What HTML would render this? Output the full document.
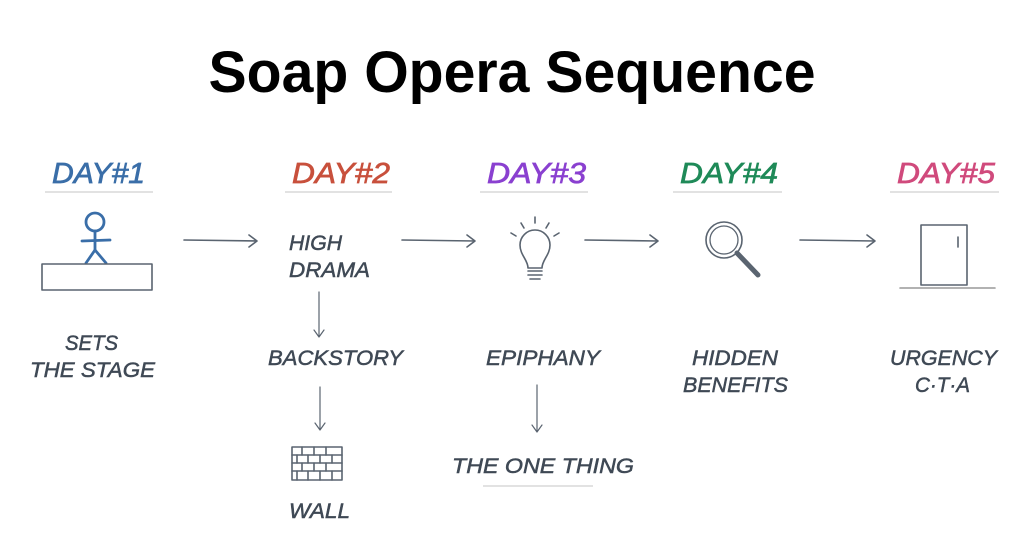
<!DOCTYPE html>
<html><head><meta charset="utf-8"><style>
html,body{margin:0;padding:0;background:#fff;width:1024px;height:536px;overflow:hidden}
svg{display:block}
.t{font-family:"Liberation Sans",sans-serif;font-style:italic;fill:#3f4955;stroke:#3f4955;stroke-width:0.5;font-size:21px}
.d{font-family:"Liberation Sans",sans-serif;font-style:italic;font-size:29px;stroke-width:0.7}
.ln{stroke:#5a6470;stroke-width:1.6;fill:none;stroke-linecap:round;stroke-linejoin:round}
.ul{stroke:#d8d8d8;stroke-width:1.5}
</style></head><body>
<svg width="1024" height="536" viewBox="0 0 1024 536" xmlns="http://www.w3.org/2000/svg">
<text x="512" y="92" text-anchor="middle" font-family="Liberation Sans,sans-serif" font-weight="bold" font-size="58" textLength="607" lengthAdjust="spacingAndGlyphs" fill="#000">Soap Opera Sequence</text>

<text class="d" x="52" y="183" textLength="93" lengthAdjust="spacingAndGlyphs" fill="#3a6ea8" stroke="#3a6ea8">DAY#1</text>
<text class="d" x="292" y="183" textLength="98" lengthAdjust="spacingAndGlyphs" fill="#c8503c" stroke="#c8503c">DAY#2</text>
<text class="d" x="487" y="183" textLength="99" lengthAdjust="spacingAndGlyphs" fill="#8a40d0" stroke="#8a40d0">DAY#3</text>
<text class="d" x="680" y="183" textLength="98" lengthAdjust="spacingAndGlyphs" fill="#1f8a58" stroke="#1f8a58">DAY#4</text>
<text class="d" x="897" y="183" textLength="98" lengthAdjust="spacingAndGlyphs" fill="#d04a7c" stroke="#d04a7c">DAY#5</text>
<line class="ul" x1="45" y1="192" x2="153" y2="192"/>
<line class="ul" x1="285" y1="192" x2="392" y2="192"/>
<line class="ul" x1="480" y1="192" x2="588" y2="192"/>
<line class="ul" x1="673" y1="192" x2="782" y2="192"/>
<line class="ul" x1="890" y1="192" x2="999" y2="192"/>

<g stroke="#3a6ea8" stroke-width="2.8" fill="none" stroke-linecap="round">
<circle cx="95" cy="222" r="9"/>
<line x1="95" y1="231" x2="95" y2="250"/>
<line x1="82" y1="241" x2="110" y2="240"/>
<line x1="95" y1="250" x2="86" y2="263"/>
<line x1="95" y1="250" x2="106" y2="263"/>
</g>
<rect x="42" y="264" width="110" height="26" class="ln" stroke-width="2"/>

<g class="ln">
<path d="M184 240 L257 241 M249 235 L257 241 L249 247"/>
<path d="M402 240 L475 241 M467 235 L475 241 L467 247"/>
<path d="M585 240 L658 241 M650 235 L658 241 L650 247"/>
<path d="M800 240 L875 241 M867 235 L875 241 L867 247"/>
<path d="M319 292 L319 337 M314 330 L319 337 L324 330" stroke-width="1.2"/>
<path d="M320 387 L320 430 M315 423 L320 430 L325 423" stroke-width="1.2"/>
<path d="M537 385 L537 432 M532 425 L537 432 L542 425" stroke-width="1.2"/>
</g>

<g class="ln" stroke-width="1.3">
<rect x="292" y="447" width="50" height="33"/>
<path d="M292 455 H342 M292 463 H342 M292 471 H342"/>
<path d="M302 447 V455 M314 447 V455 M326 447 V455 M297 455 V463 M308 455 V463 M320 455 V463 M332 455 V463 M302 463 V471 M314 463 V471 M326 463 V471 M297 471 V480 M308 471 V480 M320 471 V480 M332 471 V480"/>
</g>

<g class="ln" stroke="#333" stroke-width="1.8">
<path d="M528 268 C528 260 520 255 520 245 A15 15 0 1 1 550 245 C550 255 542 260 542 268 Z"/>
<path d="M528 271 H542 M528 275 H542 M530 279 H540"/>
<path d="M535 217 V223 M521 223 L524 228 M549 223 L546 228 M511 233 L516 236 M559 233 L554 236"/>
</g>

<g class="ln" stroke="#333" stroke-width="2.2">
<circle cx="724" cy="240" r="18"/>
<circle cx="724" cy="240" r="14" stroke-width="1.3"/>
<path d="M737 253 L758 275" stroke-width="5"/>
</g>

<g class="ln">
<rect x="921" y="225" width="46" height="60"/>
<line x1="958" y1="237" x2="958" y2="247"/>
<line x1="900" y1="288" x2="995" y2="288" stroke="#999"/>
</g>

<text class="t" x="289" y="250" textLength="53" lengthAdjust="spacingAndGlyphs">HIGH</text>
<text class="t" x="289" y="277" textLength="81" lengthAdjust="spacingAndGlyphs">DRAMA</text>
<text class="t" x="268" y="365" textLength="135" lengthAdjust="spacingAndGlyphs">BACKSTORY</text>
<text class="t" x="289" y="518" textLength="61" lengthAdjust="spacingAndGlyphs">WALL</text>
<text class="t" x="65" y="350" textLength="53" lengthAdjust="spacingAndGlyphs">SETS</text>
<text class="t" x="30" y="377" textLength="125" lengthAdjust="spacingAndGlyphs">THE STAGE</text>
<text class="t" x="486" y="365" textLength="114" lengthAdjust="spacingAndGlyphs">EPIPHANY</text>
<text class="t" x="452" y="473" textLength="182" lengthAdjust="spacingAndGlyphs">THE ONE THING</text>
<line class="ul" x1="483" y1="486" x2="593" y2="486"/>
<text class="t" x="692" y="365" textLength="86" lengthAdjust="spacingAndGlyphs">HIDDEN</text>
<text class="t" x="683" y="392" textLength="105" lengthAdjust="spacingAndGlyphs">BENEFITS</text>
<text class="t" x="890" y="365" textLength="107" lengthAdjust="spacingAndGlyphs">URGENCY</text>
<text class="t" x="915" y="392" textLength="55" lengthAdjust="spacingAndGlyphs">C·T·A</text>
</svg>
</body></html>
